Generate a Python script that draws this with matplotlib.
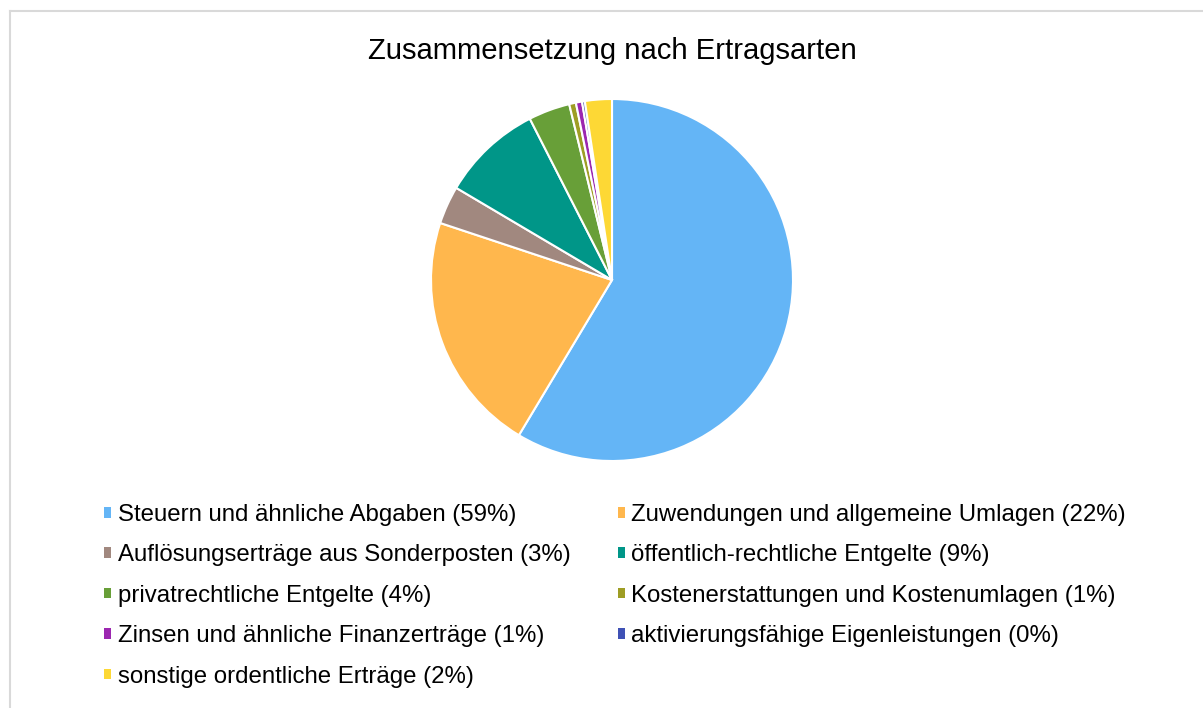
import matplotlib.pyplot as plt
from matplotlib.patches import Patch

plt.rcParams['font.family'] = ['Liberation Sans', 'DejaVu Sans']

# data
categories = ['Steuern und ähnliche Abgaben',
              'Zuwendungen und allgemeine Umlagen',
              'Auflösungserträge aus Sonderposten',
              'öffentlich-rechtliche Entgelte',
              'privatrechtliche Entgelte',
              'Kostenerstattungen und Kostenumlagen',
              'Zinsen und ähnliche Finanzerträge',
              'aktivierungsfähige Eigenleistungen',
              'sonstige ordentliche Erträge']
shares = [58.6, 21.5, 3.4, 9.0, 3.7, 0.6, 0.55, 0.25, 2.4]
legend_pct = [59, 22, 3, 9, 4, 1, 1, 0, 2]
colors = ['#64B5F6', '#FFB74D', '#A1887F', '#009688', '#689F38',
          '#9E9D24', '#9C27B0', '#3F51B5', '#FDD835']

W, H = 1203, 708
fig = plt.figure(figsize=(W / 100, H / 100), dpi=100)

# chart area border (light grey, left and top visible)
fig.add_artist(plt.Line2D([10 / W, 10 / W], [0, 1 - 11 / H], color='#D9D9D9', lw=1.5))
fig.add_artist(plt.Line2D([10 / W, 1], [1 - 11 / H, 1 - 11 / H], color='#D9D9D9', lw=1.5))

cx, cy, r = 612, 280, 181
ax = fig.add_axes([(cx - r) / W, (H - cy - r) / H, 2 * r / W, 2 * r / H])
ax.pie(shares, colors=colors, startangle=90, counterclock=False,
       wedgeprops=dict(edgecolor='white', linewidth=1.5))
ax.set_xlim(-1, 1)
ax.set_ylim(-1, 1)
ax.set_aspect('equal')
ax.axis('off')

fig.text(cx / W, 1 - 51 / H, 'Zusammensetzung nach Ertragsarten',
         ha='center', va='center', fontsize=21.1)

# legend, filled row by row like the original
handles = [Patch(facecolor=c, edgecolor='none') for c in colors]
labels = [f'{c} ({p}%)' for c, p in zip(categories, legend_pct)]
order = [0, 2, 4, 6, 8, 1, 3, 5, 7]
fig.legend([handles[i] for i in order], [labels[i] for i in order],
           loc='upper left', bbox_to_anchor=(104 / W, 1 - 504 / H),
           ncol=2, frameon=False, fontsize=17.3, borderpad=0, borderaxespad=0,
           handlelength=0.3, handleheight=0.3, handletextpad=0.27,
           labelspacing=0.765, columnspacing=1.97)

fig.savefig('out.png', dpi=100)
